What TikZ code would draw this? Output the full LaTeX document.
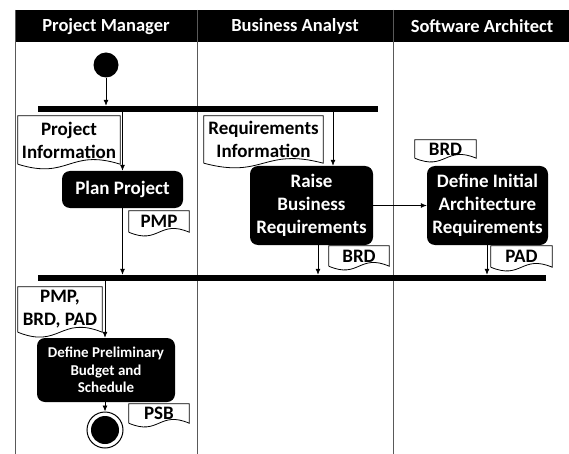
\documentclass[tikz,border=0pt]{standalone}
\usepackage{fontspec}
\setmainfont{Carlito}
\usetikzlibrary{arrows.meta,calc}
\tikzset{
  actbox/.style={fill=black, text=white, rounded corners=8pt, align=center, inner sep=0pt,
    font=\fontsize{19}{23}\selectfont\bfseries},
  smallact/.style={actbox, font=\fontsize{15}{17.5}\selectfont\bfseries},
  docnode/.style={inner sep=0pt, align=center, font=\fontsize{19}{23}\selectfont\bfseries},
  docline/.style={draw=black, line width=0.8pt},
  flow/.style={-{Latex[length=6pt,width=5pt]}, line width=0.8pt},
  syncbar/.style={fill=black, inner sep=0pt, minimum height=6pt},
  lane/.style={draw=black!65, line width=0.9pt},
  hdr/.style={text=white, font=\fontsize{18.5}{22}\selectfont\bfseries}
}
\newcommand\docframe[2]{%
  \draw[docline] (#1.south west) -- (#1.north west) -- (#1.north east) -- (#1.south east)
    .. controls ($(#1.south)+(0,-#2)$) and ($(#1.south)+(0,#2)$) .. (#1.south west);
}
\begin{document}
\begin{tikzpicture}[x=1pt,y=-1pt]
\useasboundingbox (0,0) rectangle (569,454);
% header band
\fill[black] (15,10) rectangle (569,42);
\node[hdr] (hpm) at (106,26.5) {Project Manager};
\node[hdr] (hba) at (295,26.5) {Business Analyst};
\node[hdr] (hsa) at (482,26.5) {Software Architect};
% lanes
\draw[lane] (15,10) -- (15,454);
\draw[lane] (197,10) -- (197,454);
\draw[lane] (393,10) -- (393,454);
% start
\node[circle, fill=black, minimum size=25pt, inner sep=0pt] (start) at (106,65) {};
% bars
\node[syncbar, minimum width=340pt] (bar1) at (208,109) {};
\node[syncbar, minimum width=508pt] (bar2) at (292,278) {};
% activities
\node[actbox, minimum width=121pt, minimum height=37pt] (plan) at (122.5,189.5) {Plan Project};
\node[actbox, minimum width=123pt, minimum height=79pt] (raise) at (311.5,205.5) {Raise\\Business\\Requirements};
\node[actbox, minimum width=121pt, minimum height=79pt] (arch) at (487.5,205.5) {Define Initial\\Architecture\\Requirements};
\node[smallact, minimum width=138pt, minimum height=64pt] (prelim) at (106,370) {Define Preliminary\\Budget and\\Schedule};
% end
\node[circle, draw=black, line width=1pt, minimum size=36pt, inner sep=0pt,
  path picture={\fill[black] (path picture bounding box.center) circle (14pt);}] (end) at (105,430) {};
% documents
\node[docnode, minimum width=102pt, minimum height=48pt] (pinfo) at (69,140) {Project\\Information};
\node[docnode, minimum width=60pt, minimum height=21pt] (pmp) at (159,221.5) {PMP};
\node[docnode, minimum width=119pt, minimum height=47pt] (reqinfo) at (263.5,139.5) {Requirements\\Information};
\node[docnode, minimum width=60pt, minimum height=20pt] (brda) at (359,256) {BRD};
\node[docnode, minimum width=61pt, minimum height=18pt] (brdb) at (445.5,149) {BRD};
\node[docnode, minimum width=61pt, minimum height=21pt] (pad) at (521.5,256.5) {PAD};
\node[docnode, minimum width=84pt, minimum height=45pt] (inputs) at (60,309.5) {PMP,\\BRD, PAD};
\node[docnode, minimum width=60pt, minimum height=19pt] (psb) at (159,413.5) {PSB};
\docframe{pinfo}{16}
\docframe{pmp}{13}
\docframe{reqinfo}{16}
\docframe{brda}{13}
\docframe{brdb}{13}
\docframe{pad}{13}
\docframe{inputs}{17}
\docframe{psb}{13}
% flows
\coordinate (xreq) at (333,0);
\coordinate (xraise) at (318,0);
\coordinate (xarch) at (487,0);
\coordinate (xpre) at (105,0);
\draw[flow] (start) -- (start |- bar1.north);
\draw[flow] (plan.north |- bar1.south) -- (plan.north);
\draw[flow] (plan.south) -- (plan.south |- bar2.north);
\draw[flow] (xreq |- bar1.south) -- (xreq |- raise.north);
\draw[flow] (xraise |- raise.south) -- (xraise |- bar2.north);
\draw[flow] (raise.east) -- (arch.west);
\draw[flow] (xarch |- arch.south) -- (xarch |- bar2.north);
\draw[flow] (xpre |- bar2.south) -- (xpre |- prelim.north);
\draw[flow] (xpre |- prelim.south) -- (end.north);
\end{tikzpicture}
\end{document}
